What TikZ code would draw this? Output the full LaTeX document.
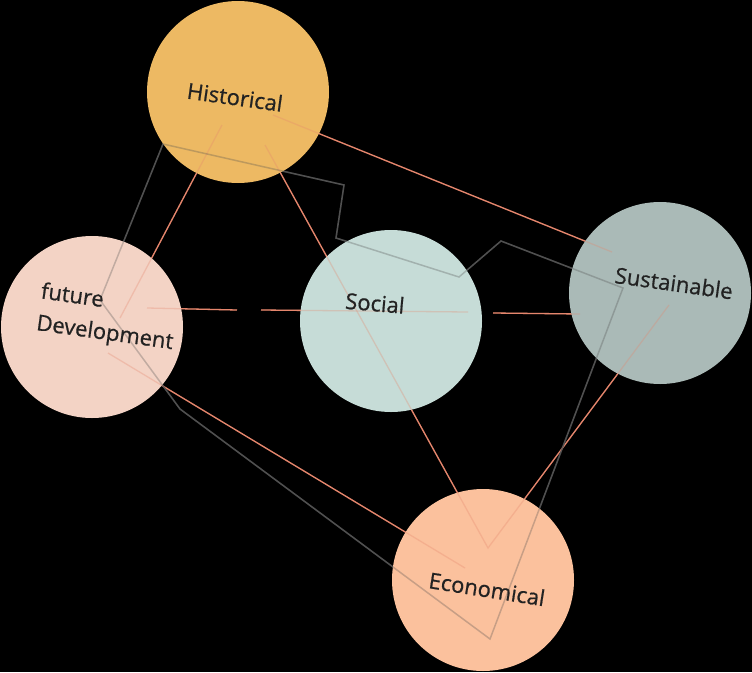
\documentclass[tikz,border=0pt]{standalone}
\usepackage{fontspec}
\setmainfont{Open Sans}[BoldFont={Open Sans},BoldFeatures={FakeBold=0.7}]
\usetikzlibrary{positioning}
\definecolor{histc}{HTML}{EDB963}
\definecolor{futc}{HTML}{F3D3C5}
\definecolor{socc}{HTML}{C6DCD7}
\definecolor{susc}{HTML}{AABAB7}
\definecolor{ecoc}{HTML}{FBC19D}
\definecolor{relc}{HTML}{E5866D}
\definecolor{tourc}{HTML}{505050}
\definecolor{txtc}{HTML}{222222}
% all links, drawn under and again faintly over the bubbles
\newcommand{\alllinks}{%
 \draw[rel] (hA) -- (sA);
 \draw[rel] (hB) -- (fB);
 \draw[rel] (hC) -- (eC) -- (sC);
 \draw[rel] (fD) -- (eD);
 \draw[rel] (f1) -- (m1) (m2) -- (o1) (o2) -- (s1);
 \draw[tour] (g1) -- (g2) -- (g3) -- (g4) -- (g5) -- (g6) -- (g7) -- (g8) -- (g9) -- cycle;}

\begin{document}
\begin{tikzpicture}[x=1pt,y=-1pt,
  bub/.style={circle,minimum size=182pt,inner sep=0pt},
  lab/.style={font=\fontsize{22}{32}\selectfont\bfseries,text=txtc,align=left,rotate=-8},
  rel/.style={draw=relc,line width=1.3pt},
  tour/.style={draw=tourc,line width=1.5pt,line join=miter}]
 \fill[black] (0,0) rectangle (752,672);
 \useasboundingbox (0,0) rectangle (752,672);
 % end points of the links
 \coordinate (hA) at (273,115); \coordinate (sA) at (612,252);
 \coordinate (hB) at (222,125); \coordinate (fB) at (120,318);
 \coordinate (hC) at (265,145); \coordinate (eC) at (488,548);
 \coordinate (sC) at (669,305);
 \coordinate (fD) at (108,353); \coordinate (eD) at (465,568);
 \coordinate (f1) at (147,308); \coordinate (m1) at (237,310);
 \coordinate (m2) at (261,310); \coordinate (o1) at (468,312);
 \coordinate (o2) at (493,313); \coordinate (s1) at (580,314);
 % the grey loop
 \coordinate (g1) at (100,300); \coordinate (g2) at (163,144);
 \coordinate (g3) at (344,185); \coordinate (g4) at (336,238);
 \coordinate (g5) at (459,277); \coordinate (g6) at (501,241);
 \coordinate (g7) at (623,288); \coordinate (g8) at (490,639);
 \coordinate (g9) at (180,409);
 \alllinks
 % bubbles
 \node[bub,fill=histc] (hist) at (238,92)  {};
 \node[bub,fill=futc]  (fut)  at (92,327)  {};
 \node[bub,fill=socc]  (soc)  at (391,321) {};
 \node[bub,fill=susc]  (sus)  at (660,293) {};
 \node[bub,fill=ecoc]  (eco)  at (483,580) {};
 \begin{scope}[opacity=0.3]
  \alllinks
 \end{scope}
 \node[lab] (histT) at (235,97)  {Historical};
 \node[lab] (futT)  at (107,318) {future\\Development};
 \node[lab,rotate=3] (socT) at (375,303) {Social};
 \node[lab] (susT)  at (674,283) {Sustainable};
 \node[lab,rotate=-1] (ecoT) at (487,589) {Economical};
\end{tikzpicture}
\end{document}
